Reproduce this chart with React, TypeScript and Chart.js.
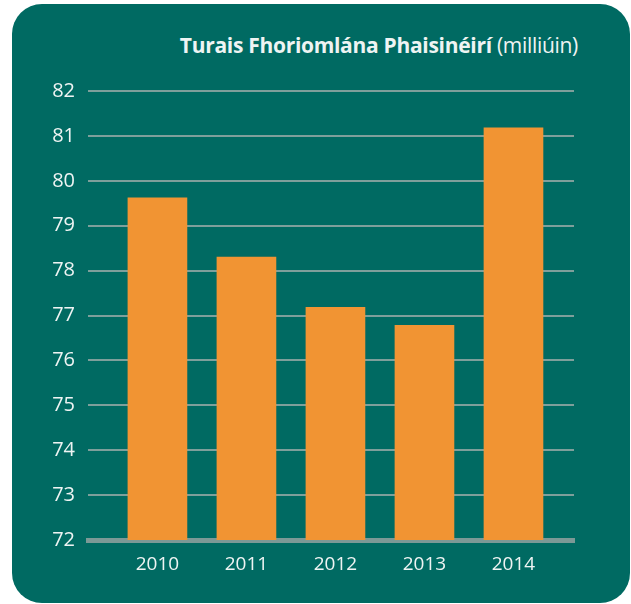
import React, { useEffect, useRef } from "react";
import { Chart, registerables } from "chart.js";

Chart.register(...registerables);

const categories = ["2010", "2011", "2012", "2013", "2014"];
const values = [79.62, 78.3, 77.18, 76.78, 81.18];
const yTicks = [72, 73, 74, 75, 76, 77, 78, 79, 80, 81, 82];

const TEAL = "#006A62";
const ORANGE = "#F19433";
const GRID = "#7E9F9B";
const BASE = "#7C9996";
const TEXT = "#EEF4F3";
const FONT = "'Open Sans', sans-serif";

export default function App() {
  const ref = useRef<HTMLCanvasElement>(null);

  useEffect(() => {
    if (!ref.current) return;
    const chart = new Chart(ref.current, {
      type: "bar",
      data: {
        datasets: [
          {
            data: values.map((v, i) => ({ x: i, y: v })),
            backgroundColor: ORANGE,
            borderWidth: 0,
            barThickness: 59,
          },
        ],
      },
      options: {
        animation: false,
        responsive: false,
        maintainAspectRatio: false,
        layout: { padding: { left: 8, right: 57, top: 91, bottom: 0 } },
        plugins: { legend: { display: false }, tooltip: { enabled: false }, title: { display: false } },
        scales: {
          x: {
            type: "linear",
            offset: false,
            min: -0.78,
            max: 4.68,
            afterBuildTicks: (s: any) => {
              s.ticks = categories.map((_, i) => ({ value: i }));
            },
            afterFit: (s: any) => {
              s.height = 64;
            },
            grid: { display: false, drawTicks: false, offset: false },
            border: { display: true, color: BASE, width: 5 },
            ticks: {
              padding: 13,
              color: TEXT,
              font: { family: FONT, size: 19 },
              callback: (v: any) => categories[Math.round(Number(v))] ?? "",
            },
          },
          y: {
            min: 72,
            max: 82,
            afterBuildTicks: (s: any) => {
              s.ticks = yTicks.map((v) => ({ value: v }));
            },
            afterFit: (s: any) => {
              s.width = 80;
            },
            grid: { color: GRID, lineWidth: 2, drawTicks: false },
            border: { display: false },
            ticks: {
              padding: 13,
              color: TEXT,
              font: { family: FONT, size: 20 },
            },
          },
        },
      },
    });
    return () => chart.destroy();
  }, []);

  return (
    <div style={{ position: "absolute", left: 0, top: 0, width: 631, height: 604, background: "#fff" }}>
      <div
        style={{
          position: "absolute",
          left: 12,
          top: 4,
          width: 618,
          height: 599,
          background: TEAL,
          borderRadius: 30,
        }}
      />
      <div
        style={{
          position: "absolute",
          right: 53,
          top: 31,
          color: TEXT,
          fontFamily: FONT,
          fontSize: 21,
          whiteSpace: "nowrap",
          letterSpacing: -0.3,
        }}
      >
        <span style={{ fontWeight: 700 }}>Turais Fhoriomlána Phaisinéirí</span>{" "}
        <span style={{ fontWeight: 400 }}>(milliúin)</span>
      </div>
      <canvas
        ref={ref}
        width={631}
        height={604}
        style={{ position: "absolute", left: 0, top: 0, width: 631, height: 604 }}
      />
    </div>
  );
}
